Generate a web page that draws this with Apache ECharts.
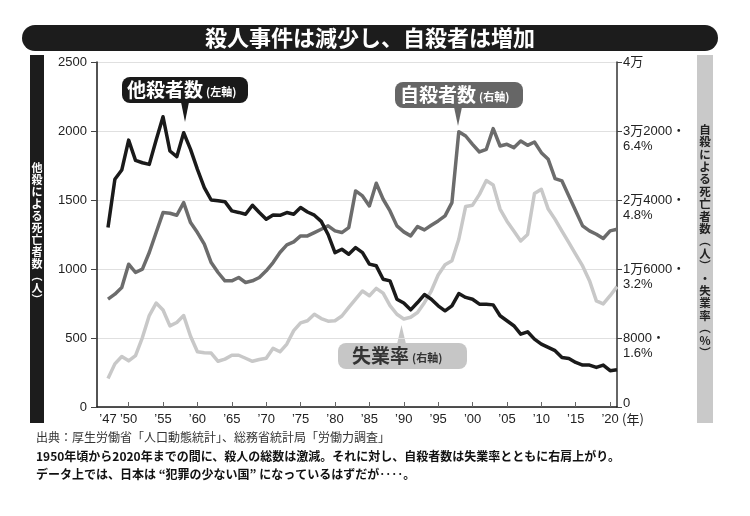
<!DOCTYPE html>
<html><head><meta charset="utf-8">
<script src="https://cdn.jsdelivr.net/npm/echarts@6/dist/echarts.min.js"></script>
<style>html,body{margin:0;padding:0;background:#fff}#c{width:750px;height:516px}</style>
</head><body><div id="c"></div>
<script>
// ---- data ----
const years = [1947,1948,1949,1950,1951,1952,1953,1954,1955,1956,1957,1958,1959,1960,1961,1962,1963,1964,1965,1966,1967,1968,1969,1970,1971,1972,1973,1974,1975,1976,1977,1978,1979,1980,1981,1982,1983,1984,1985,1986,1987,1988,1989,1990,1991,1992,1993,1994,1995,1996,1997,1998,1999,2000,2001,2002,2003,2004,2005,2006,2007,2008,2009,2010,2011,2012,2013,2014,2015,2016,2017,2018,2019,2020,2021];
const homicide = [1300,1650,1717,1934,1787,1770,1758,1935,2103,1855,1814,1987,1867,1722,1590,1500,1495,1488,1421,1410,1397,1462,1409,1360,1392,1389,1409,1397,1445,1413,1390,1345,1250,1119,1143,1107,1155,1119,1035,1023,926,914,781,753,704,757,815,781,733,697,733,822,794,781,745,745,740,661,625,589,528,545,492,456,432,408,359,352,323,304,304,287,304,263,270];
const suicide = [12506,13085,13857,16559,15594,15980,17910,20226,22542,22465,22234,23700,21384,20226,18875,16752,15594,14629,14629,15015,14436,14629,15015,15787,16752,17910,18798,19146,19840,19840,20226,20612,20998,20419,20226,20805,25051,24472,23314,25939,24086,22735,20998,20303,19840,20921,20535,21075,21577,22156,23700,31922,31420,30455,29568,29876,32270,30262,30455,30069,30841,30340,30726,29490,28718,26480,26209,24472,22735,20998,20419,20033,19532,20419,20612];
const unemployment = [0.66,1.0,1.17,1.07,1.19,1.61,2.12,2.41,2.25,1.88,1.96,2.12,1.64,1.28,1.26,1.25,1.06,1.11,1.2,1.2,1.13,1.06,1.1,1.13,1.36,1.28,1.46,1.77,1.95,2.0,2.15,2.05,1.99,2.0,2.11,2.31,2.5,2.69,2.58,2.75,2.64,2.35,2.15,2.04,2.08,2.19,2.42,2.69,3.06,3.3,3.39,3.89,4.65,4.68,4.93,5.25,5.15,4.59,4.31,4.08,3.85,4.0,4.95,5.05,4.59,4.35,4.08,3.81,3.54,3.27,2.93,2.46,2.39,2.58,2.79];
const xLabelYears = [1947,1950,1955,1960,1965,1970,1975,1980,1985,1990,1995,2000,2005,2010,2015,2020];
const xTickYears = [1950,1955,1960,1965,1970,1975,1980,1985,1990,1995,2000,2005,2010,2015,2020];
const rightTickValues = [0,8000,16000,24000,32000,40000];
const rightTickLabels = ['0','8000・','1万6000・','2万4000・','3万2000・','4万'];
const rateTickValues = [1.6,3.2,4.8,6.4];
const rateTickLabels = ['1.6%','3.2%','4.8%','6.4%'];

const NUM = 'Liberation Sans, "Noto Sans CJK JP", sans-serif';
const JP = '"Noto Sans CJK JP", sans-serif';

const chart = echarts.init(document.getElementById('c'), null, {renderer:'canvas'});
const pair = arr => years.map((y,i)=>[y,arr[i]]);

chart.setOption({
  animation:false,
  backgroundColor:'#fff',
  grid:{left:97,right:133,top:62,bottom:109,containLabel:false,outerBoundsMode:'none'},
  xAxis:{
    type:'value',min:1945.4,max:2021,
    axisLine:{show:true,lineStyle:{color:'#1a1a1a',width:1.5}},
    axisTick:{show:true,inside:true,length:5,customValues:xTickYears,lineStyle:{color:'#666',width:1}},
    axisLabel:{customValues:xLabelYears,formatter:v=>'’'+String(v).slice(2),fontSize:13,color:'#222',margin:6,fontFamily:NUM},
    splitLine:{show:false}
  },
  yAxis:[
    {type:'value',min:0,max:2500,interval:500,position:'left',
     axisLine:{show:true,lineStyle:{color:'#1a1a1a',width:1.5}},
     axisTick:{show:true,inside:false,length:6,lineStyle:{color:'#444'}},
     axisLabel:{fontSize:13,color:'#222',margin:10,fontFamily:NUM,formatter:v=>String(v)},
     splitLine:{show:true,lineStyle:{color:'#e0e0e0',width:1}}},
    {type:'value',min:0,max:40000,interval:8000,position:'right',
     axisLine:{show:true,lineStyle:{color:'#333',width:1.5}},
     axisTick:{show:true,inside:false,length:5,lineStyle:{color:'#444'}},
     axisLabel:{fontSize:13,color:'#222',margin:6,fontFamily:NUM,align:'left',
       formatter:v=>{const k=rightTickValues.indexOf(Math.round(v));if(k<0)return '';return k===0?'{z|0}':rightTickLabels[k];},
       rich:{z:{fontSize:13,color:'#222',fontFamily:NUM,padding:[0,0,8,0]}}},
     splitLine:{show:false}},
    {type:'value',min:0,max:8,interval:1.6,position:'right',
     axisLine:{show:false},axisTick:{show:false},
     axisLabel:{fontSize:13,color:'#222',margin:6,fontFamily:NUM,align:'left',verticalAlign:'top',padding:[9,0,0,0],
       formatter:v=>{const k=rateTickValues.findIndex(t=>Math.abs(t-v)<1e-6);return k<0?'':rateTickLabels[k];}},
     splitLine:{show:false}}
  ],
  series:[
    {name:'失業率',type:'line',yAxisIndex:2,data:pair(unemployment),symbol:'none',
     lineStyle:{color:'#c8c8c8',width:3.5,join:'round'},z:2},
    {name:'自殺者数',type:'line',yAxisIndex:1,data:pair(suicide),symbol:'none',
     lineStyle:{color:'#6c6c6c',width:3.5,join:'round'},z:3},
    {name:'他殺者数',type:'line',yAxisIndex:0,data:pair(homicide),symbol:'none',
     lineStyle:{color:'#1a1a1a',width:3.5,join:'round'},z:4}
  ],
  graphic:[
    {type:'rect',shape:{x:22,y:25,width:696,height:26,r:13},style:{fill:'#1c1c1c'}},
    {type:'text',x:370,y:38,style:{text:'殺人事件は減少し、自殺者は増加',fill:'#fff',fontSize:22,fontWeight:'bold',fontFamily:JP,align:'center',verticalAlign:'middle'}},
    // left vertical label
    {type:'rect',shape:{x:30,y:55,width:14,height:368},style:{fill:'#1c1c1c'}},
    {type:'text',x:37,y:234,style:{text:'他\n殺\nに\nよ\nる\n死\n亡\n者\n数\n︵\n人\n︶',fill:'#fff',fontSize:11,lineHeight:12,fontWeight:'bold',fontFamily:JP,align:'center',verticalAlign:'middle'}},
    // right vertical label
    {type:'rect',shape:{x:697,y:55,width:16,height:368},style:{fill:'#c9c9c9'}},
    {type:'text',x:705,y:241,style:{text:'自\n殺\nに\nよ\nる\n死\n亡\n者\n数\n︵\n人\n︶\n・\n失\n業\n率\n︵\n%\n︶',fill:'#222',fontSize:11.5,lineHeight:12.4,fontWeight:'bold',fontFamily:JP,align:'center',verticalAlign:'middle'}},
    // callout: homicide
    {type:'rect',shape:{x:122,y:77,width:126,height:26,r:8},style:{fill:'#1a1a1a'}},
    {type:'polygon',shape:{points:[[181,102],[189,102],[185,122]]},style:{fill:'#1a1a1a'}},
    {type:'text',x:127,y:90,style:{text:'{a|他殺者数}{b|(左軸)}',verticalAlign:'middle',
      rich:{a:{fontSize:19,fontWeight:'bold',fill:'#fff',fontFamily:JP},b:{fontSize:11,fontWeight:'bold',fill:'#fff',fontFamily:JP,padding:[3,0,0,3]}}}},
    // callout: suicide
    {type:'rect',shape:{x:395,y:82,width:128,height:26,r:8},style:{fill:'#666'}},
    {type:'polygon',shape:{points:[[454,107],[462,107],[458,126]]},style:{fill:'#666'}},
    {type:'text',x:400,y:95,style:{text:'{a|自殺者数}{b|(右軸)}',verticalAlign:'middle',
      rich:{a:{fontSize:19,fontWeight:'bold',fill:'#fff',fontFamily:JP},b:{fontSize:11,fontWeight:'bold',fill:'#fff',fontFamily:JP,padding:[3,0,0,3]}}}},
    // callout: unemployment
    {type:'rect',shape:{x:338,y:343,width:129,height:26,r:8},style:{fill:'#c6c6c6'}},
    {type:'polygon',shape:{points:[[397,344],[406,344],[401.5,325]]},style:{fill:'#c6c6c6'}},
    {type:'text',x:352,y:356,style:{text:'{a|失業率}{b|(右軸)}',verticalAlign:'middle',
      rich:{a:{fontSize:19,fontWeight:'bold',fill:'#333',fontFamily:JP},b:{fontSize:11,fontWeight:'bold',fill:'#333',fontFamily:JP,padding:[3,0,0,3]}}}},
    // year unit
    {type:'text',x:622,y:419,style:{text:'(年)',fill:'#222',fontSize:13,fontFamily:JP,verticalAlign:'middle'}},
    // footnotes
    {type:'text',x:36,y:437,style:{text:'出典：厚生労働省「人口動態統計」、総務省統計局「労働力調査」',fill:'#333',fontSize:12,fontFamily:JP,verticalAlign:'middle'}},
    {type:'text',x:36,y:456,style:{text:'1950年頃から2020年までの間に、殺人の総数は激減。それに対し、自殺者数は失業率とともに右肩上がり。',fill:'#111',fontSize:12,fontWeight:'bold',fontFamily:JP,verticalAlign:'middle'}},
    {type:'text',x:36,y:474,style:{text:'データ上では、日本は “犯罪の少ない国” になっているはずだが‥‥。',fill:'#111',fontSize:12,fontWeight:'bold',fontFamily:JP,verticalAlign:'middle'}}
  ]
});
</script></body></html>
